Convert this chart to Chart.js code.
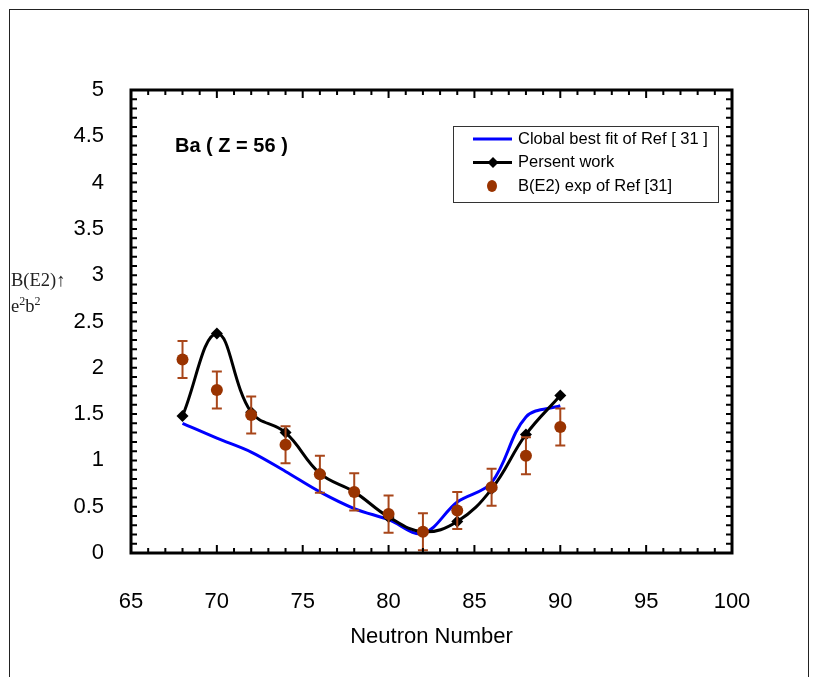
<!DOCTYPE html>
<html>
<head>
<meta charset="utf-8">
<script src="https://cdn.jsdelivr.net/npm/chart.js@4.4.1/dist/chart.umd.min.js"></script>
<style>
  body { margin: 0; background: #fff; }
  .wrap { position: relative; width: 824px; height: 677px; overflow: hidden; }
  .frame { position: absolute; left: 9px; top: 9px; width: 798px; height: 720px; border: 1.5px solid #222; }
  canvas { position: absolute; left: 0; top: 0; }
  .ylab { position: absolute; left: 11px; font-family: "Liberation Serif", "Times New Roman", serif; font-size: 18.5px; color: #222; line-height: 20px; white-space: nowrap; }
  .ylab sup { font-size: 12px; vertical-align: 7px; line-height: 0; }
</style>
</head>
<body>
<div class="wrap">
  <div class="frame"></div>
  <canvas id="chart" width="824" height="677"></canvas>
  <div class="ylab" style="top:270px">B(E2)↑</div>
  <div class="ylab" style="top:296px">e<sup>2</sup>b<sup>2</sup></div>
</div>
<script>
// Neutron numbers for Ba (Z = 56)
const neutrons = [68, 70, 72, 74, 76, 78, 80, 82, 84, 86, 88, 90]
// B(E2) values (e2 b2)
const globalFit = [1.40, 1.24, 1.09, 0.88, 0.66, 0.48, 0.36, 0.21, 0.55, 0.76, 1.47, 1.59]
const presentWork = [1.48, 2.37, 1.52, 1.30, 0.86, 0.66, 0.39, 0.23, 0.34, 0.69, 1.28, 1.70]
const expValues = [2.09, 1.76, 1.49, 1.17, 0.85, 0.66, 0.42, 0.23, 0.46, 0.71, 1.05, 1.36]
const expErrors = [0.20, 0.20, 0.20, 0.20, 0.20, 0.20, 0.20, 0.20, 0.20, 0.20, 0.20, 0.20]
const legendLabels = ['Clobal best fit of Ref [ 31 ]', 'Persent work', 'B(E2) exp of Ref [31]']

const brown = '#993300'
const toXY = (vals) => vals.map((v, i) => ({x: neutrons[i], y: v}))

Chart.defaults.font.family = '"Liberation Sans", Arial, sans-serif'
Chart.defaults.color = '#000'

//Error bars drawn just before the experimental points
const errorBars = {
    id: 'errorBars',
    beforeDatasetDraw(chart, args) {
        if (args.index !== 2) return
        const {ctx, scales: {x, y}} = chart
        ctx.save()
        ctx.strokeStyle = '#a8461a'
        ctx.lineWidth = 2
        expValues.forEach((v, i) => {
            const px = x.getPixelForValue(neutrons[i])
            const top = y.getPixelForValue(v + expErrors[i])
            const bot = y.getPixelForValue(v - expErrors[i])
            ctx.beginPath()
            ctx.moveTo(px, top); ctx.lineTo(px, bot)
            ctx.moveTo(px - 5, top); ctx.lineTo(px + 5, top)
            ctx.moveTo(px - 5, bot); ctx.lineTo(px + 5, bot)
            ctx.stroke()
        })
        ctx.restore()
    }
}

//Box round the plot with inward ticks, legend and label
const frameAndLegend = {
    id: 'frameAndLegend',
    afterDraw(chart) {
        const {ctx, chartArea: a, scales: {x, y}} = chart
        ctx.save()
        ctx.strokeStyle = '#000'
        ctx.lineWidth = 2
        ctx.beginPath()
        for (let n = 65; n <= 100; n++) {
            const px = x.getPixelForValue(n)
            const len = n % 5 === 0 ? 8 : 5
            ctx.moveTo(px, a.bottom); ctx.lineTo(px, a.bottom - len)
            ctx.moveTo(px, a.top); ctx.lineTo(px, a.top + len)
        }
        for (let i = 0; i <= 50; i++) {
            const py = y.getPixelForValue(i / 10)
            ctx.moveTo(a.left, py); ctx.lineTo(a.left + 6, py)
            ctx.moveTo(a.right, py); ctx.lineTo(a.right - 6, py)
        }
        ctx.stroke()
        ctx.lineWidth = 3
        ctx.strokeRect(a.left, a.top, a.right - a.left, a.bottom - a.top)

        // label of the nucleus
        ctx.fillStyle = '#000'
        ctx.font = 'bold 20px "Liberation Sans", Arial, sans-serif'
        ctx.textBaseline = 'middle'
        ctx.fillText('Ba ( Z = 56 )', 175, 146)

        // legend
        ctx.lineWidth = 1
        ctx.strokeStyle = '#333'
        ctx.strokeRect(453.5, 126.5, 265, 76)
        const rows = [139, 162.5, 186]
        ctx.font = '16.5px "Liberation Sans", Arial, sans-serif'
        legendLabels.forEach((t, i) => ctx.fillText(t, 518, rows[i]))
        ctx.lineWidth = 3
        ctx.strokeStyle = '#0000ff'
        ctx.beginPath(); ctx.moveTo(473, rows[0]); ctx.lineTo(512, rows[0]); ctx.stroke()
        ctx.strokeStyle = '#000'
        ctx.beginPath(); ctx.moveTo(473, rows[1]); ctx.lineTo(512, rows[1]); ctx.stroke()
        ctx.beginPath()
        ctx.moveTo(493, rows[1] - 5.5); ctx.lineTo(498.5, rows[1]); ctx.lineTo(493, rows[1] + 5.5); ctx.lineTo(487.5, rows[1])
        ctx.closePath(); ctx.fill()
        ctx.fillStyle = brown
        ctx.beginPath(); ctx.ellipse(492, rows[2], 5, 6, 0, 0, Math.PI * 2); ctx.fill()
        ctx.restore()
    }
}

const ctx = document.getElementById('chart').getContext('2d')
const myChart = new Chart(ctx, {
    type: 'line',
    data: {
        datasets: [{
            label: legendLabels[0],
            data: toXY(globalFit),
            borderColor: '#0000ff',
            borderWidth: 3,
            pointRadius: 0,
            tension: 0.35,
            order: 3
        }, {
            label: legendLabels[1],
            data: toXY(presentWork),
            borderColor: '#000',
            backgroundColor: '#000',
            borderWidth: 3,
            pointStyle: 'rectRot',
            pointRadius: 6,
            pointBorderWidth: 0,
            tension: 0.4,
            order: 2
        }, {
            label: legendLabels[2],
            data: toXY(expValues),
            showLine: false,
            pointStyle: 'circle',
            pointRadius: 6,
            pointBorderWidth: 0,
            backgroundColor: brown,
            borderColor: brown,
            order: 1
        }]
    },
    options: {
        responsive: false,
        animation: false,
        layout: { padding: { left: 0, top: 90, right: 92, bottom: 0 } },
        plugins: {
            legend: { display: false },
            tooltip: { enabled: false }
        },
        scales: {
            x: {
                type: 'linear',
                min: 65,
                max: 100,
                grid: { display: false },
                border: { display: false },
                ticks: { stepSize: 5, padding: 28, font: { size: 22 } },
                title: { display: true, text: 'Neutron Number', font: { size: 22 }, padding: { top: 0, bottom: 27 } },
                afterFit: s => { s.height = 124 }
            },
            y: {
                min: 0,
                max: 5,
                grid: { display: false },
                border: { display: false },
                ticks: { stepSize: 0.5, padding: 19, font: { size: 22 }, callback: v => String(v) },
                afterFit: s => { s.width = 131 }
            }
        }
    },
    plugins: [errorBars, frameAndLegend]
})
</script>
</body>
</html>
